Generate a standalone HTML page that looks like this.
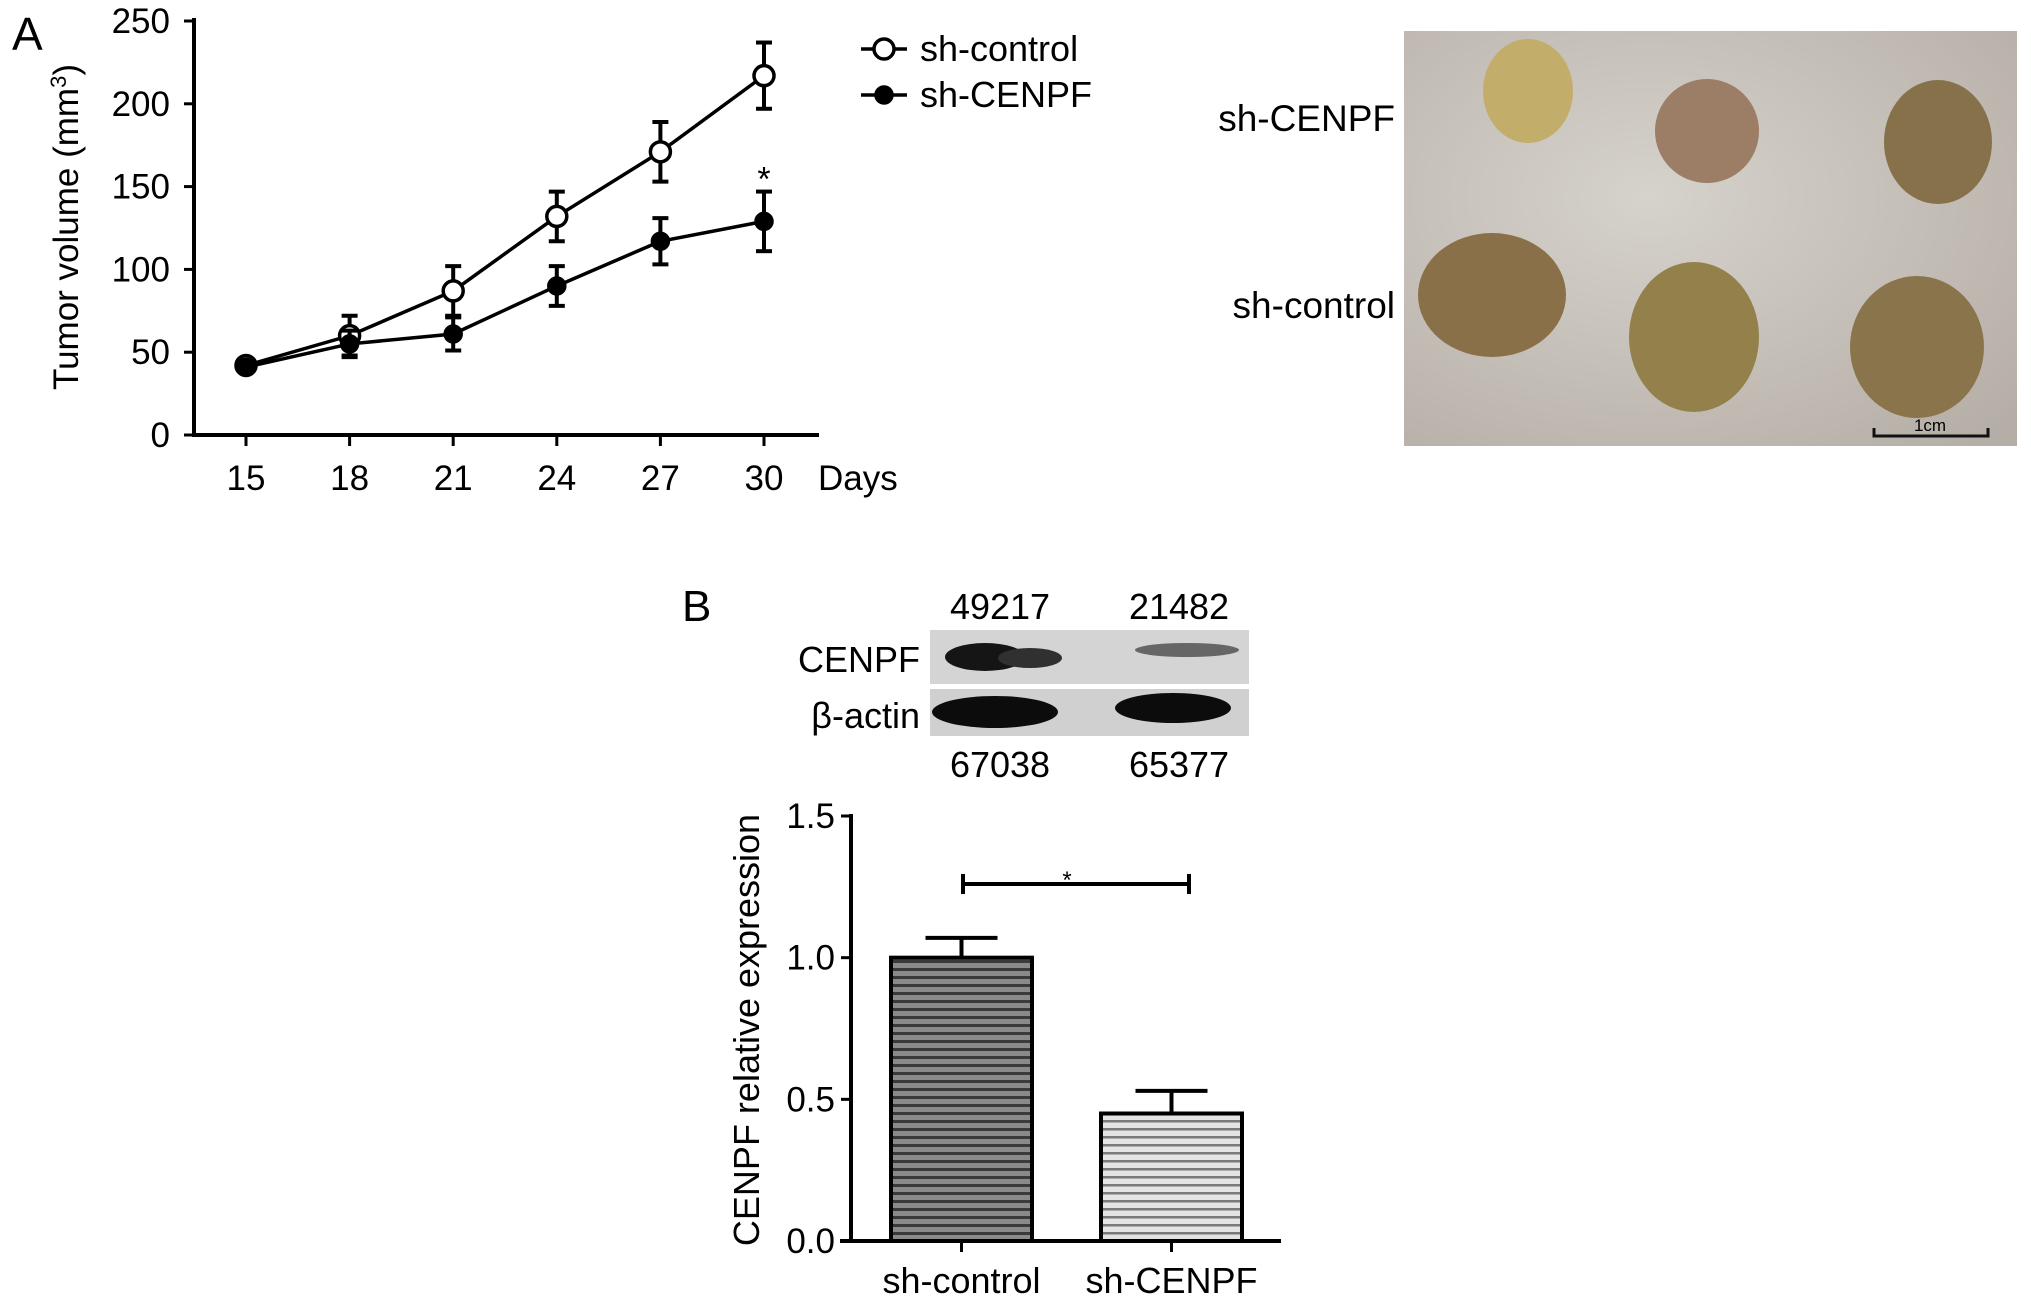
<!DOCTYPE html>
<html><head><meta charset="utf-8"><style>
html,body{margin:0;padding:0;background:#fff;}
svg{display:block;font-family:"Liberation Sans",sans-serif;}
</style></head><body>
<svg width="2031" height="1305" viewBox="0 0 2031 1305">
<defs>
<pattern id="p1" width="8" height="8" patternUnits="userSpaceOnUse"><rect width="8" height="8" fill="#8a8a8a"/><rect width="8" height="3" fill="#3a3a3a"/></pattern>
<pattern id="p2" width="8" height="8" patternUnits="userSpaceOnUse"><rect width="8" height="8" fill="#e4e4e4"/><rect width="8" height="2.5" fill="#7a7a7a"/></pattern>
<radialGradient id="bg" cx="0.4" cy="0.4" r="0.8"><stop offset="0" stop-color="#d6d2cc"/><stop offset="1" stop-color="#b5aea6"/></radialGradient>
</defs>
<text x="12" y="50" font-size="46">A</text>
<g id="lineChart"></g>
<g>
<rect x="1404" y="31" width="613" height="415" fill="url(#bg)"/>
<ellipse cx="1528" cy="91" rx="45" ry="52" fill="#c2ad6a"/>
<ellipse cx="1707" cy="131" rx="52" ry="52" fill="#9c7d65"/>
<ellipse cx="1938" cy="142" rx="54" ry="62" fill="#86714a"/>
<ellipse cx="1492" cy="295" rx="74" ry="62" fill="#8a7048"/>
<ellipse cx="1694" cy="337" rx="65" ry="75" fill="#93804a"/>
<ellipse cx="1917" cy="347" rx="67" ry="71" fill="#8a744c"/>
<path d="M1874 428 V436 H1988 V428" fill="none" stroke="#111" stroke-width="3"/>
<text x="1930" y="431" font-size="17" text-anchor="middle">1cm</text>
</g>
<text x="1395" y="131" font-size="37" text-anchor="end">sh-CENPF</text>
<text x="1395" y="318" font-size="37" text-anchor="end">sh-control</text>
<text x="682" y="621" font-size="44">B</text>
<g>
<rect x="930" y="630" width="319" height="54" fill="#d4d4d4"/>
<rect x="930" y="689" width="319" height="47" fill="#d0d0d0"/>
<ellipse cx="985" cy="657" rx="40" ry="14" fill="#151515"/>
<ellipse cx="1030" cy="658" rx="32" ry="10" fill="#303030"/>
<ellipse cx="1187" cy="650" rx="52" ry="7" fill="#666"/>
<ellipse cx="995" cy="712" rx="63" ry="16" fill="#0c0c0c"/>
<ellipse cx="1173" cy="708" rx="58" ry="15" fill="#0c0c0c"/>
</g>
<g font-size="36" text-anchor="middle">
<text x="1000" y="619">49217</text>
<text x="1179" y="619">21482</text>
<text x="1000" y="777">67038</text>
<text x="1179" y="777">65377</text>
<text x="920" y="672" text-anchor="end">CENPF</text>
<text x="920" y="728" text-anchor="end">β-actin</text>
</g>
<g id="barChart"></g>
</svg>
<script>
const NS="http://www.w3.org/2000/svg";
function mk(p,t,a,txt){const e=document.createElementNS(NS,t);for(const k in a)e.setAttribute(k,a[k]);if(txt!==undefined)e.textContent=txt;p.appendChild(e);return e;}
// Line chart data
const days=[15,18,21,24,27,30];
const controlVals=[42,60,87,132,171,217];
const controlErr=[0,12,15,15,18,20];
const cenpfVals=[41,55,61,90,117,129];
const cenpfErr=[0,8,10,12,14,18];
const yTicksA=[0,50,100,150,200,250];
const lc=document.getElementById('lineChart');
const xA=d=>246+(d-15)*(764-246)/15;
const yA=v=>435-v*(435-21)/250;
let e;
e=mk(lc,'line',{x1:194,y1:18,x2:194,y2:436,stroke:'#000','stroke-width':4});


e=mk(lc,'line',{x1:192,y1:435,x2:819,y2:435,stroke:'#000','stroke-width':4});


yTicksA.forEach(t=>{mk(lc,'line',{x1:184,y1:yA(t),x2:194,y2:yA(t),stroke:'#000','stroke-width':3});
e=mk(lc,'text',{x:170,y:yA(t)+12,'font-size':35,'text-anchor':'end'},t);

});
days.forEach(d=>{mk(lc,'line',{x1:xA(d),y1:435,x2:xA(d),y2:446,stroke:'#000','stroke-width':3});
e=mk(lc,'text',{x:xA(d),y:490,'font-size':35,'text-anchor':'middle'},d);

});
e=mk(lc,'text',{x:818,y:490,'font-size':35},'Days');


e=mk(lc,'text',{x:0,y:0,'font-size':35,'text-anchor':'middle',transform:'translate(78,227) rotate(-90)'});
e.innerHTML='Tumor volume (mm<tspan dy="-12" font-size="22">3</tspan><tspan dy="12">)</tspan>';


function series(vals,errs,filled,name){
 const g=mk(lc,'g',{});
 
 
 mk(g,'polyline',{points:days.map((d,i)=>xA(d)+','+yA(vals[i])).join(' '),fill:'none',stroke:'#000','stroke-width':3.5});
 days.forEach((d,i)=>{const x=xA(d);if(errs[i]>0){
  mk(g,'line',{x1:x,y1:yA(vals[i]-errs[i]),x2:x,y2:yA(vals[i]+errs[i]),stroke:'#000','stroke-width':4});
  mk(g,'line',{x1:x-8,y1:yA(vals[i]-errs[i]),x2:x+8,y2:yA(vals[i]-errs[i]),stroke:'#000','stroke-width':4});
  mk(g,'line',{x1:x-8,y1:yA(vals[i]+errs[i]),x2:x+8,y2:yA(vals[i]+errs[i]),stroke:'#000','stroke-width':4});}
  const p=mk(g,'circle',{cx:x,cy:yA(vals[i]),r:filled?8:10,fill:filled?'#000':'#fff',stroke:'#000','stroke-width':3.5});
  
  });
}
series(controlVals,controlErr,false,'series-sh-control');
series(cenpfVals,cenpfErr,true,'series-sh-cenpf');
e=mk(lc,'text',{x:xA(30),y:yA(155)+12,'font-size':34,'text-anchor':'middle'},'*');


// legend
[['sh-control',false,49],['sh-CENPF',true,95]].forEach(([n,f,y])=>{
 const g=mk(lc,'g',{});
 
 
 mk(g,'line',{x1:861,y1:y,x2:907,y2:y,stroke:'#000','stroke-width':3.5});
 mk(g,'circle',{cx:884,cy:y,r:f?8:10,fill:f?'#000':'#fff',stroke:'#000','stroke-width':3.5});
 mk(g,'text',{x:920,y:y+12,'font-size':36},n);
});
// Bar chart
const groups=['sh-control','sh-CENPF'];
const barVals=[1.0,0.45];
const barErr=[0.07,0.08];
const yTicksB=['0.0','0.5','1.0','1.5'];
const bc=document.getElementById('barChart');
const yB=v=>1241-v*(1241-816)/1.5;
const bx=[891,1101], bw=141;
e=mk(bc,'line',{x1:851,y1:814,x2:851,y2:1242,stroke:'#000','stroke-width':4});


e=mk(bc,'line',{x1:840,y1:1241,x2:1281,y2:1241,stroke:'#000','stroke-width':4});


yTicksB.forEach(t=>{const y=yB(parseFloat(t));mk(bc,'line',{x1:841,y1:y,x2:851,y2:y,stroke:'#000','stroke-width':3});
e=mk(bc,'text',{x:835,y:y+12,'font-size':35,'text-anchor':'end'},t);

});
groups.forEach((gname,i)=>{
 const x=bx[i],cx=x+bw/2;
 mk(bc,'line',{x1:cx,y1:yB(barVals[i]),x2:cx,y2:yB(barVals[i]+barErr[i]),stroke:'#000','stroke-width':4});
 mk(bc,'line',{x1:cx-36,y1:yB(barVals[i]+barErr[i]),x2:cx+36,y2:yB(barVals[i]+barErr[i]),stroke:'#000','stroke-width':4});
 const r=mk(bc,'rect',{x:x,y:yB(barVals[i]),width:bw,height:1241-yB(barVals[i]),fill:i?'url(#p2)':'url(#p1)',stroke:'#000','stroke-width':4});
 
 
 mk(bc,'line',{x1:cx,y1:1241,x2:cx,y2:1252,stroke:'#000','stroke-width':3});
 const t=mk(bc,'text',{x:cx,y:1293,'font-size':36,'text-anchor':'middle'},gname);
 
 
});
const sigY=yB(1.26);
e=mk(bc,'path',{d:`M963 ${sigY-10} V${sigY+10} M963 ${sigY} H1189 M1189 ${sigY-10} V${sigY+10}`,stroke:'#000','stroke-width':4,fill:'none'});


e=mk(bc,'text',{x:1067,y:sigY+4,'font-size':24,'text-anchor':'middle'},'*');


e=mk(bc,'text',{x:0,y:0,'font-size':36,'text-anchor':'middle',transform:'translate(759,1030) rotate(-90)'},'CENPF relative expression');


</script>
</body></html>
